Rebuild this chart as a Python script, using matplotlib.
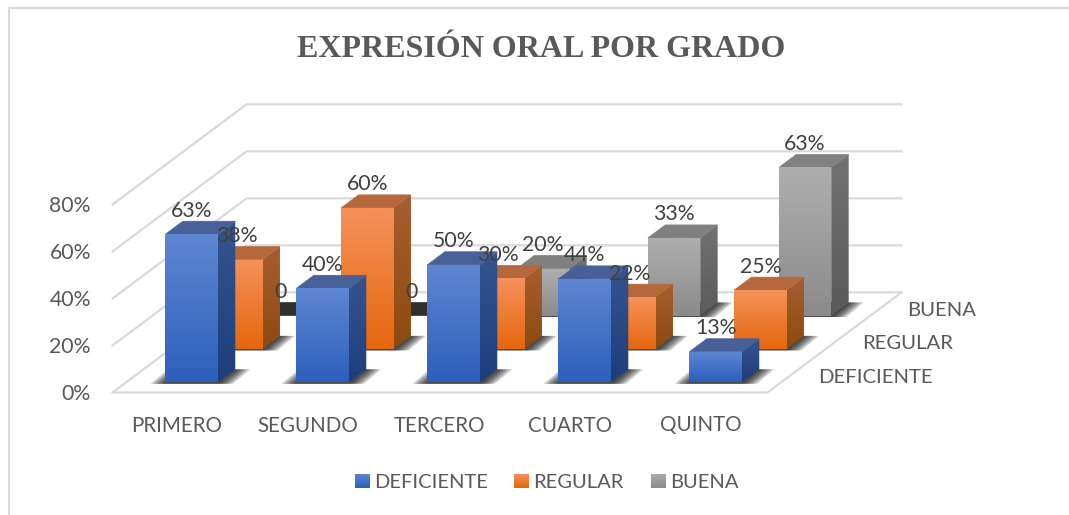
# Expresion oral por grado - 3D style bars on a flat axes
import numpy as np
import matplotlib
matplotlib.use("Agg")
import matplotlib.pyplot as plt
from matplotlib.patches import Polygon

plt.rcParams['font.family'] = ['Lato', 'DejaVu Sans']

# data
grados = ['PRIMERO', 'SEGUNDO', 'TERCERO', 'CUARTO', 'QUINTO']
series = ['DEFICIENTE', 'REGULAR', 'BUENA']
deficiente = [63, 40, 50, 44, 13]
regular = [38, 60, 30, 22, 25]
buena = [0, 0, 20, 33, 63]
niveles = [0, 20, 40, 60, 80]

valores = [deficiente, regular, buena]

# colours: front top, front bottom, side top, side bottom, roof
colores = [
    ('#5f86d2', '#2d60bb', '#36558f', '#1c3e7b', '#476098'),
    ('#f5915a', '#e5670f', '#a65f30', '#8d4a0f', '#b5683c'),
    ('#aeaeae', '#8b8b8b', '#727272', '#5a5a5a', '#808080'),
]
GRID = '#d9d9d9'
TEXTO = '#595959'
ETIQUETA = '#404040'

# oblique projection, in pixels of the picture
X0, Y0 = 112.5, 392.5
ANCHO_CAT = 131.0
DX, DY = 44.7, 33.4
PX_POR_PCT = 2.35
GROSOR = 0.40     # bar width, as part of a category
FONDO = 0.39      # bar depth, as part of a row


def proy(cat, prof, val):
    return (X0 + cat * ANCHO_CAT + prof * DX,
            Y0 - prof * DY - val * PX_POR_PCT)


fig = plt.figure(figsize=(10.69, 5.15), dpi=100)
ax = fig.add_axes([0, 0, 1, 1])
ax.set_xlim(0, 1069)
ax.set_ylim(515, 0)
ax.axis('off')


def degradado(puntos, arriba, abajo, z):
    # vertical gradient clipped to a polygon
    pts = np.array(puntos)
    c1 = np.array(matplotlib.colors.to_rgb(arriba))
    c2 = np.array(matplotlib.colors.to_rgb(abajo))
    t = np.linspace(0, 1, 64)[:, None, None]
    img = c1[None, None, :] * (1 - t) + c2[None, None, :] * t
    im = ax.imshow(img, extent=(pts[:, 0].min(), pts[:, 0].max(),
                                pts[:, 1].max(), pts[:, 1].min()),
                   aspect='auto', origin='upper', zorder=z)
    clip = Polygon(pts, closed=True, transform=ax.transData)
    im.set_clip_path(clip)


# outer frame of the chart
ax.plot([9, 9, 1069], [515, 7.5, 7.5], color=GRID, lw=1.5, zorder=0)

# walls and floor
for n in niveles:
    ax.plot(*zip(proy(0, 0, n), proy(0, 3, n), proy(5, 3, n)),
            color=GRID, lw=1.6, zorder=1)
ax.plot(*zip(proy(0, 0, 0), proy(5, 0, 0), proy(5, 3, 0)),
        color=GRID, lw=1.6, zorder=1)

z = 2
for fila in [2, 1, 0]:
    c_fa, c_fb, c_la, c_lb, c_te = colores[fila]
    for cat, val in enumerate(valores[fila]):
        a = cat + (1 - GROSOR) / 2
        b = a + GROSOR
        p = fila + (1 - FONDO) / 2
        q = p + FONDO

        # soft shadow on the floor
        if val > 0:
            for g in np.arange(15, 0, -2.5):
                x1, y1 = proy(a, p, 0)
                x2, y2 = proy(b, p, 0)
                x3, y3 = proy(b, q, 0)
                x4, y4 = proy(a, q, 0)
                ax.add_patch(Polygon([(x1 - g, y1 + 1.5), (x2 + g, y2 + 1.5),
                                      (x3 + g, y3), (x4 - g, y4)],
                                     fc='black', ec='none', alpha=0.18, zorder=z))
            z += 1

        frente = [proy(a, p, val), proy(b, p, val), proy(b, p, 0), proy(a, p, 0)]
        lado = [proy(b, p, val), proy(b, q, val), proy(b, q, 0), proy(b, p, 0)]
        techo = [proy(a, p, val), proy(b, p, val), proy(b, q, val), proy(a, q, val)]

        if val == 0:
            ax.add_patch(Polygon(techo, fc='#303030', ec='#303030', lw=0.5, zorder=z))
        else:
            degradado(lado, c_la, c_lb, z)
            ax.add_patch(Polygon(techo, fc=c_te, ec=c_te, lw=0.5, zorder=z))
            degradado(frente, c_fa, c_fb, z + 1)
        z += 2

# value labels sit above everything
for fila in range(3):
    for cat, val in enumerate(valores[fila]):
        x, y = proy(cat + 0.5, fila + (1 - FONDO) / 2, val)
        txt = '0' if val == 0 else f'{val}%'
        ax.text(x, y - 23.5, txt, ha='center', va='center', fontsize=15.3,
                color=ETIQUETA, zorder=500)

# axis texts
for n in niveles:
    x, y = proy(0, 0, n)
    ax.text(x - 21.5, y + 1.5, f'{n}%', ha='right', va='center', fontsize=15.3,
            color=TEXTO, zorder=500)
for cat, nombre in enumerate(grados):
    x, y = proy(cat + 0.5, 0, 0)
    ax.text(x - 1, y + 33, nombre, ha='center', va='center', fontsize=14.8,
            color=TEXTO, zorder=500)
for fila, nombre in enumerate(series):
    x, y = proy(5, fila + 0.5, 0)
    ax.text(x + 28, y + 1.5, nombre, ha='left', va='center', fontsize=14.6,
            color=TEXTO, zorder=500)

ax.text(541, 49.5, 'EXPRESIÓN ORAL POR GRADO', ha='center', va='center',
        fontsize=23, fontweight='bold', family='Liberation Serif', color=TEXTO)

# legend, built by hand so the swatches keep the gradient
ley_x = [355, 514, 651]
for fila, nombre in enumerate(series):
    x = ley_x[fila]
    caja = [(x, 474), (x + 14.5, 474), (x + 14.5, 488.5), (x, 488.5)]
    degradado(caja, colores[fila][0], colores[fila][1], 500)
    ax.text(x + 19.5, 482, nombre, ha='left', va='center', fontsize=14.5,
            color=TEXTO, zorder=500)

ax.set_xlim(0, 1069)
ax.set_ylim(515, 0)
fig.savefig('out.png', dpi=100)
